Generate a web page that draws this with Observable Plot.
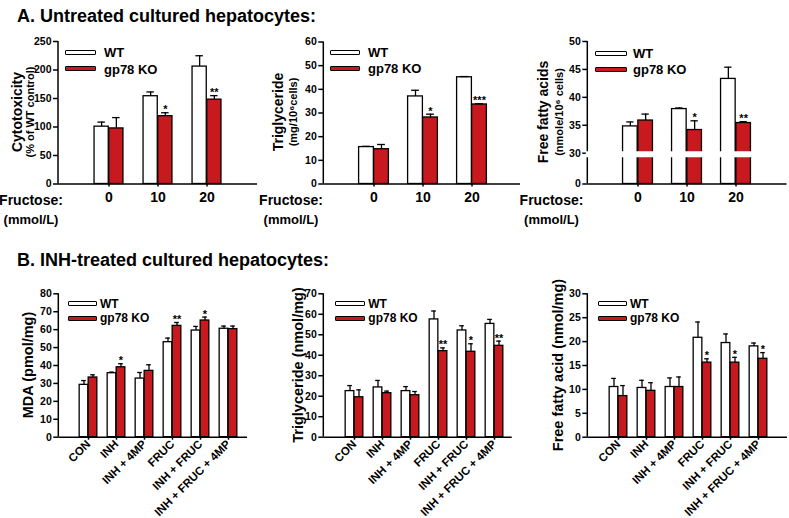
<!DOCTYPE html>
<html><head><meta charset="utf-8">
<script src="https://cdn.jsdelivr.net/npm/d3@7"></script>
<script src="https://cdn.jsdelivr.net/npm/@observablehq/plot@0.6"></script>
<style>
body{margin:0;background:#fff;}
#root{position:relative;width:789px;height:518px;overflow:hidden;font-family:"Liberation Sans",Arial,sans-serif;font-weight:bold;color:#000;}
#root svg{position:absolute;overflow:visible;}
.abs{position:absolute;white-space:nowrap;line-height:1;transform:translate(0,-50%);}
.ctr{position:absolute;white-space:nowrap;line-height:1;transform:translate(-50%,-50%);}
.rot{position:absolute;white-space:nowrap;line-height:1;transform:translate(-50%,-50%) rotate(-90deg);}
.sw{position:absolute;box-sizing:border-box;border:1.4px solid #000;border-radius:1px;}
</style></head><body><div id="root"></div>
<script>
// ---- categories ----
const fructose = ["0", "10", "20"];
const treatments = ["CON", "INH", "INH + 4MP", "FRUC", "INH + FRUC", "INH + FRUC + 4MP"];
const seriesNames = ["WT", "gp78 KO"];

// ---- A. Untreated: cytotoxicity (% of WT control) ----
const cytoWT = [100.6, 154, 206];
const cytoWTErr = [8, 7.5, 19];
const cytoKO = [97.5, 119, 148];
const cytoKOErr = [19, 6, 7];
const cytoSig = ["", "*", "**"];
const cytoTicks = [0, 50, 100, 150, 200, 250];

// ---- A. Untreated: triglyceride (mg/10^6 cells) ----
const tgAWT = [15.6, 37, 45.1];
const tgAWTErr = [0.3, 2.6, 0.3];
const tgAKO = [14.7, 28.1, 33.6];
const tgAKOErr = [2, 1.4, 0.3];
const tgASig = ["", "*", "***"];
const tgATicks = [0, 10, 20, 30, 40, 50, 60];

// ---- A. Untreated: free fatty acids (nmole/10^6 cells), broken axis ----
const ffaAWT = [34.8, 37.9, 43.3];
const ffaAWTErr = [0.8, 0.2, 2.1];
const ffaAKO = [35.85, 34.15, 35.4];
const ffaAKOErr = [1.15, 1.65, 0.25];
const ffaASig = ["", "*", "**"];
const ffaATicks = [0, 30, 35, 40, 45, 50];

// ---- B. INH-treated: MDA (pmol/mg) ----
const mdaWT = [29.2, 35.7, 32.7, 53, 59.5, 60.5];
const mdaWTErr = [2.4, 0.6, 3.4, 2.3, 2.3, 1.5];
const mdaKO = [33.3, 39, 37, 62.1, 65.1, 60.3];
const mdaKOErr = [1.5, 2, 3.4, 1.9, 1.9, 1.7];
const mdaSig = ["", "*", "", "**", "*", ""];
const mdaTicks = [0, 10, 20, 30, 40, 50, 60, 70, 80];

// ---- B. INH-treated: triglyceride (nmol/mg) ----
const tgBWT = [22.5, 24.3, 22.5, 57.5, 52.1, 55.3];
const tgBWTErr = [2.7, 3.4, 2.2, 4.1, 2.3, 2.2];
const tgBKO = [19.5, 21.5, 20.5, 42, 41.7, 44.6];
const tgBKOErr = [3.6, 1, 1.8, 1.6, 3.9, 2.3];
const tgBSig = ["", "", "", "**", "*", "**"];
const tgBTicks = [0, 10, 20, 30, 40, 50, 60, 70];

// ---- B. INH-treated: free fatty acid (nmol/mg) ----
const ffaBWT = [10.5, 10.3, 10.5, 20.8, 19.7, 19];
const ffaBWTErr = [1.8, 1.6, 1.9, 3.3, 1.9, 0.7];
const ffaBKO = [8.6, 9.7, 10.5, 15.6, 15.6, 16.4];
const ffaBKOErr = [2.2, 1.7, 2.1, 0.8, 1.1, 1.3];
const ffaBSig = ["", "", "", "*", "*", "*"];
const ffaBTicks = [0, 5, 10, 15, 20, 25, 30];

const RED = "#c81a1e";
const FONT = '"Liberation Sans", Arial, sans-serif';
const root = document.getElementById("root");

function yLine(index, scales, values, d) {
  const l = document.createElementNS("http://www.w3.org/2000/svg", "line");
  l.setAttribute("x1", d.marginLeft); l.setAttribute("x2", d.marginLeft);
  l.setAttribute("y1", d.marginTop); l.setAttribute("y2", d.height - d.marginBottom);
  l.setAttribute("stroke", "black"); l.setAttribute("stroke-width", 1.5);
  return l;
}

function makePanel(p) {
  const [L, T, W, H] = p.box;
  const n = p.cats.length;
  const rows = p.cats.map((c, i) => ({
    cat: c, wt: p.wt[i], wtTop: p.wt[i] + p.wtErr[i],
    ko: p.ko[i], koTop: p.ko[i] + p.koErr[i], sig: p.sig[i]
  }));
  const half = p.step / 2, bw = p.barW, cap = p.cap;
  const y = {domain: p.domain};
  if (p.yRange) { y.type = "linear"; y.range = p.yRange.map(v => v - T); }
  const sw = 1.3;
  const marks = [
    Plot.barY(rows, {x: "cat", y: "wt", fill: "white", stroke: "black", strokeWidth: sw, insetLeft: half - bw, insetRight: half}),
    Plot.barY(rows, {x: "cat", y: "ko", fill: RED, stroke: "black", strokeWidth: sw, insetLeft: half, insetRight: half - bw}),
    Plot.ruleX(rows, {x: "cat", y1: "wt", y2: "wtTop", dx: -bw / 2, stroke: "black", strokeWidth: sw}),
    Plot.ruleX(rows, {x: "cat", y1: "ko", y2: "koTop", dx: bw / 2, stroke: "black", strokeWidth: sw}),
    Plot.tickY(rows, {x: "cat", y: "wtTop", insetLeft: half - bw / 2 - cap / 2, insetRight: half + bw / 2 - cap / 2, stroke: "black", strokeWidth: sw}),
    Plot.tickY(rows, {x: "cat", y: "koTop", insetLeft: half + bw / 2 - cap / 2, insetRight: half - bw / 2 - cap / 2, stroke: "black", strokeWidth: sw}),
    Plot.text(rows, {x: "cat", y: "koTop", text: "sig", dx: bw / 2, dy: -3, lineAnchor: "middle", fontSize: 11, fontWeight: "bold"}),
    Plot.ruleY([0], {stroke: "black", strokeWidth: 1.5}),
    yLine,
    Plot.axisY(p.ticks, {tickSize: 5, tickPadding: 2, tickFormat: d => String(d), fontSize: 10.5, fontWeight: "bold", strokeWidth: 1.5, label: null}),
    Plot.axisX(p.rotate ? {tickRotate: -45, tickSize: 3, tickPadding: 2, fontSize: 11.5, fontWeight: "bold", strokeWidth: 1.5, label: null}
                        : {tickSize: 3, tickPadding: 5, fontSize: 14, fontWeight: "bold", strokeWidth: 1.5, label: null})
  ];
  if (p.breakAt !== undefined) {
    marks.push(Plot.ruleY([p.breakAt], {stroke: "white", strokeWidth: 6, dy: 1, insetLeft: -1.5}));
  }
  const svg = Plot.plot({
    width: W, height: H,
    marginLeft: p.axisX - L, marginRight: L + W - p.axisR,
    marginTop: p.top - T, marginBottom: T + H - p.bottom,
    x: {domain: p.cats, range: [p.c0 - half - L, p.c0 + (n - 0.5) * p.step - L], padding: 0, label: null},
    y,
    style: {fontFamily: FONT, fontWeight: "bold", background: "transparent", overflow: "visible"},
    marks
  });
  svg.style.left = L + "px";
  svg.style.top = T + "px";
  root.appendChild(svg);
}

function addText(cls, text, x, y, size, extra) {
  const d = document.createElement("div");
  d.className = cls;
  d.textContent = text;
  d.style.left = x + "px";
  d.style.top = y + "px";
  d.style.fontSize = size + "px";
  if (extra) Object.assign(d.style, extra);
  root.appendChild(d);
}

function legend(sx, sw, tx, yWT, yKO, size) {
  [[yWT, "white", seriesNames[0]], [yKO, RED, seriesNames[1]]].forEach(([yy, fill, label]) => {
    const s = document.createElement("div");
    s.className = "sw";
    s.style.left = sx + "px"; s.style.top = (yy - 2.5) + "px";
    s.style.width = sw + "px"; s.style.height = "5px"; s.style.background = fill;
    root.appendChild(s);
    addText("abs", label, tx, yy, size);
  });
}

// Section titles
addText("abs", "A. Untreated cultured hepatocytes:", 17, 15.5, 18);
addText("abs", "B. INH-treated cultured hepatocytes:", 17, 259.5, 18);

// Panels A
makePanel({cats: fructose, wt: cytoWT, wtErr: cytoWTErr, ko: cytoKO, koErr: cytoKOErr, sig: cytoSig,
  ticks: cytoTicks, domain: [0, 250], box: [0, 30, 262, 180], axisX: 58, axisR: 257, top: 41, bottom: 183.5,
  c0: 108.3, step: 49.5, barW: 14.7, cap: 8});
makePanel({cats: fructose, wt: tgAWT, wtErr: tgAWTErr, ko: tgAKO, koErr: tgAKOErr, sig: tgASig,
  ticks: tgATicks, domain: [0, 60], box: [265, 30, 262, 180], axisX: 323.3, axisR: 520, top: 41.5, bottom: 183.5,
  c0: 373.4, step: 49.2, barW: 15, cap: 8});
makePanel({cats: fructose, wt: ffaAWT, wtErr: ffaAWTErr, ko: ffaAKO, koErr: ffaAKOErr, sig: ffaASig,
  ticks: ffaATicks, domain: [0, 30, 50], yRange: [183.5, 152.7, 41], breakAt: 30,
  box: [530, 30, 259, 180], axisX: 587.3, axisR: 786.5, top: 41, bottom: 183.5,
  c0: 637.3, step: 49.7, barW: 15.3, cap: 8});

// Panels B
makePanel({cats: treatments, wt: mdaWT, wtErr: mdaWTErr, ko: mdaKO, koErr: mdaKOErr, sig: mdaSig,
  ticks: mdaTicks, domain: [0, 80], box: [0, 285, 262, 233], axisX: 58.3, axisR: 247, top: 293.3, bottom: 436.7,
  c0: 86.7, step: 28.33, barW: 9, cap: 5, rotate: true});
makePanel({cats: treatments, wt: tgBWT, wtErr: tgBWTErr, ko: tgBKO, koErr: tgBKOErr, sig: tgBSig,
  ticks: tgBTicks, domain: [0, 70], box: [265, 285, 262, 233], axisX: 323.3, axisR: 511.7, top: 293.3, bottom: 436.7,
  c0: 352.7, step: 28.33, barW: 9, cap: 5, rotate: true});
makePanel({cats: treatments, wt: ffaBWT, wtErr: ffaBWTErr, ko: ffaBKO, koErr: ffaBKOErr, sig: ffaBSig,
  ticks: ffaBTicks, domain: [0, 30], box: [530, 285, 259, 233], axisX: 587.3, axisR: 787, top: 293.3, bottom: 436.7,
  c0: 617.3, step: 28.33, barW: 9, cap: 5, rotate: true});

// Fructose labels (A)
[31, 291, 551.5].forEach(cx => {
  addText("ctr", "Fructose:", cx, 200, 14);
  addText("ctr", "(mmol/L)", cx, 218.5, 13);
});

// Y-axis titles A
addText("rot", "Cytotoxicity", 17, 112, 14);
addText("rot", "(% of WT control)", 30, 112, 11);
addText("rot", "Triglyceride", 278.3, 112, 14);
addText("rot", "(mg/10⁶cells)", 293.3, 112, 11);
addText("rot", "Free fatty acids", 543.3, 112, 14);
addText("rot", "(nmole/10⁶ cells)", 559, 112, 11);

// Y-axis titles B
addText("rot", "MDA (pmol/mg)", 28.3, 365, 14.5);
addText("rot", "Triglyceride (nmol/mg)", 298.3, 365, 14.5);
addText("rot", "Free fatty acid (nmol/mg)", 558.3, 365, 14.5);

// Legends
legend(65, 31, 104, 52, 68.5, 13);
legend(330, 30, 368, 52.3, 68.3, 13);
legend(595, 31.5, 633, 53.3, 69.3, 13);
legend(68.3, 28.5, 100, 303.5, 318, 12);
legend(335, 30, 368.3, 303.5, 318.3, 12);
legend(598.3, 28.5, 630, 303.5, 318.3, 12);
</script></body></html>
